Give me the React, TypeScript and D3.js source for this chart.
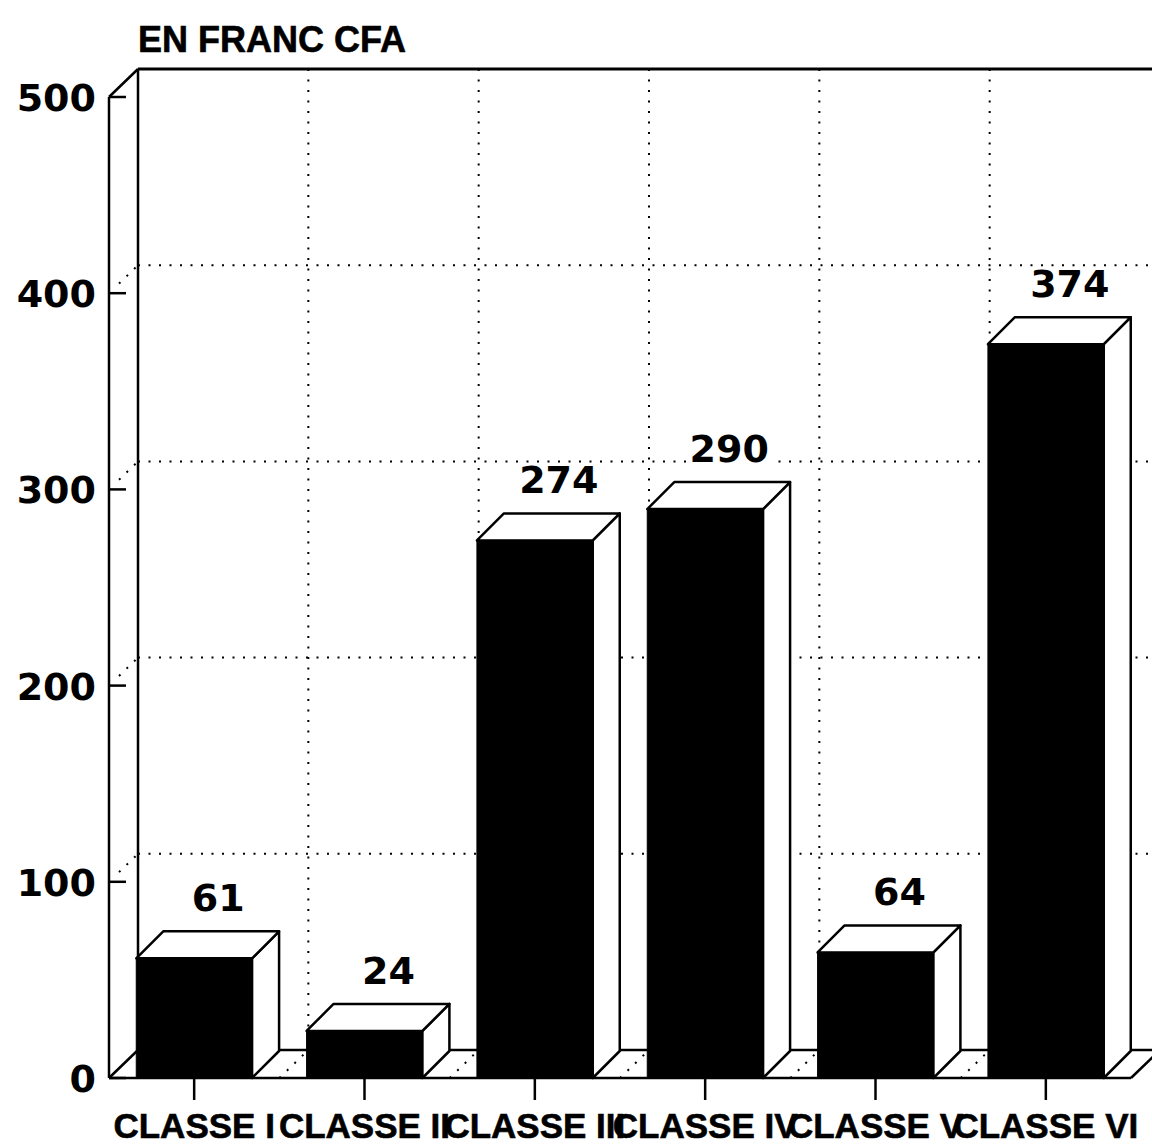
import React from "react";
import * as d3 from "d3";

const categories = ["CLASSE I", "CLASSE II", "CLASSE III", "CLASSE IV", "CLASSE V", "CLASSE VI"];
const values = [61, 24, 274, 290, 64, 374];
const yTicks = [0, 100, 200, 300, 400, 500];
const gridValues = [100, 200, 300, 400];
const title = "EN FRANC CFA";

const W = 1152;
const H = 1146;

export default function App() {
  const x0 = 109;
  const x1 = 1131;
  const yBase = 1078;
  const yTopV = 97;
  const wdx = 29; // wall depth
  const wdy = 28;
  const bdx = 27; // bar depth
  const bdy = 27;

  const x = d3.scaleBand<string>().domain(categories).range([x0, x1]).paddingInner(0.32).paddingOuter(0.16);
  const y = d3.scaleLinear().domain([0, 500]).range([yBase, yTopV]);
  const step = x.step();
  const bw = x.bandwidth();

  const numFont = "'DejaVu Sans', sans-serif";
  const wordFont = "'Liberation Sans', Arial, sans-serif";

  const bounds = categories.slice(1).map((c) => (x(c) as number) - (step - bw) / 2);

  const dot = { stroke: "#000", strokeWidth: 2, strokeDasharray: "2 8.5", fill: "none" } as const;
  const solid = { stroke: "#000", strokeWidth: 2.5, fill: "none" } as const;

  return (
    <svg width={W} height={H} style={{ display: "block", position: "absolute", left: 0, top: 0, background: "#fff" }}>
      <rect x={0} y={0} width={W} height={H} fill="#fff" />
      <text x={138} y={52} fontFamily={wordFont} fontWeight="bold" fontSize={36} fill="#000" stroke="#000" strokeWidth={0.6}>
        {title}
      </text>

      {gridValues.map((v) => (
        <line key={"hg" + v} x1={x0 + wdx} x2={W} y1={y(v) - wdy} y2={y(v) - wdy} {...dot} />
      ))}
      {gridValues.map((v) => (
        <line key={"dg" + v} x1={x0 + 10} y1={y(v) - 10 * (wdy / wdx)} x2={x0 + wdx} y2={y(v) - wdy} {...dot} />
      ))}
      {bounds.map((b, i) => (
        <line key={"vg" + i} x1={b + wdx} x2={b + wdx} y1={y(500) - wdy} y2={yBase - wdy} {...dot} />
      ))}
      {bounds.map((b, i) => (
        <line key={"fg" + i} x1={b} y1={yBase} x2={b + wdx} y2={yBase - wdy} {...dot} />
      ))}

      <line x1={x0 + wdx} x2={W} y1={y(500) - wdy} y2={y(500) - wdy} stroke="#000" strokeWidth={3} />
      <line x1={x0 + wdx} x2={x0 + wdx} y1={y(500) - wdy} y2={yBase - wdy} {...solid} />
      <line x1={x0 + wdx} x2={W} y1={yBase - wdy} y2={yBase - wdy} {...solid} />
      <line x1={x0} x2={x0} y1={y(500)} y2={yBase} {...solid} />
      <line x1={x0} y1={y(500)} x2={x0 + wdx} y2={y(500) - wdy} {...solid} />
      <line x1={x0} y1={yBase} x2={x0 + wdx} y2={yBase - wdy} {...solid} />
      <line x1={x0} x2={x1} y1={yBase} y2={yBase} {...solid} />
      <line x1={x1} y1={yBase} x2={x1 + wdx} y2={yBase - wdy} {...solid} />

      {yTicks.map((v) => (
        <g key={"yt" + v}>
          <line x1={x0} x2={x0 + 17} y1={y(v)} y2={y(v)} {...solid} />
          <text x={96} y={y(v) + 14} textAnchor="end" fontFamily={numFont} fontWeight="bold" fontSize={38} fill="#000">
            {v}
          </text>
        </g>
      ))}

      {categories.map((c, i) => {
        const bx0 = x(c) as number;
        const bx1 = bx0 + bw;
        const yt = y(values[i]);
        const side = [
          [bx1, yt],
          [bx1 + bdx, yt - bdy],
          [bx1 + bdx, yBase - bdy],
          [bx1, yBase],
        ];
        const top = [
          [bx0, yt],
          [bx0 + bdx, yt - bdy],
          [bx1 + bdx, yt - bdy],
          [bx1, yt],
        ];
        const pts = (p: number[][]) => p.map((q) => q.join(",")).join(" ");
        const label = String(values[i]);
        const lx = bx0 + bw / 2 + 24;
        const ly = yt - bdy - 20;
        const lw = label.length * 26.5;
        return (
          <g key={"bar" + c}>
            <polygon points={pts(side)} fill="#fff" stroke="#000" strokeWidth={2.5} strokeLinejoin="round" />
            <polygon points={pts(top)} fill="#fff" stroke="#000" strokeWidth={2.5} strokeLinejoin="round" />
            <rect x={bx0} y={yt} width={bw} height={yBase - yt} fill="#000" stroke="#000" strokeWidth={1} />
            <rect x={lx - lw / 2 - 2} y={ly - 30} width={lw + 4} height={34} fill="#fff" />
            <text x={lx} y={ly} textAnchor="middle" fontFamily={numFont} fontWeight="bold" fontSize={38} fill="#000">
              {label}
            </text>
          </g>
        );
      })}

      {categories.map((c) => {
        const cx = (x(c) as number) + bw / 2;
        return (
          <g key={"xt" + c}>
            <line x1={cx} x2={cx} y1={yBase} y2={yBase + 22} {...solid} />
            <text x={cx} y={1138} textAnchor="middle" fontFamily={wordFont} fontWeight="bold" fontSize={35} fill="#000" stroke="#000" strokeWidth={0.6}>
              {c}
            </text>
          </g>
        );
      })}
    </svg>
  );
}
